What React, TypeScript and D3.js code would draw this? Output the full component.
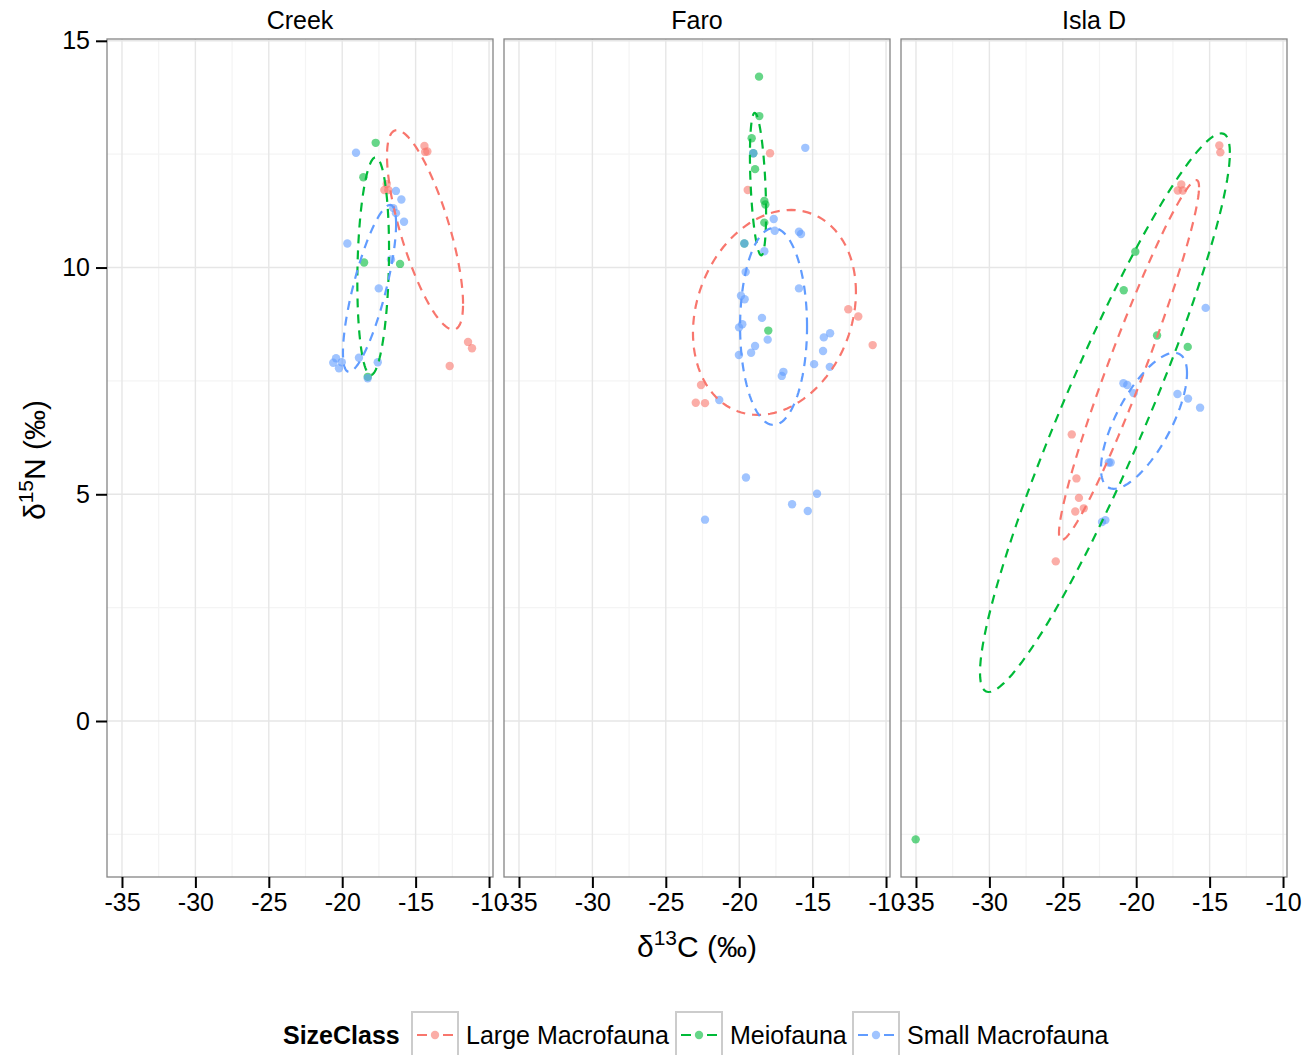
import * as d3 from "d3";
import { useEffect, useRef } from "react";

const WIDTH = 1306;
const HEIGHT = 1055;
const FONT = "'Liberation Sans', Arial, Helvetica, sans-serif";

const SITES = ["Creek", "Faro", "Isla D"];
const SIZE_CLASSES = ["Large Macrofauna", "Meiofauna", "Small Macrofauna"];
const CLASS_COLORS = ["#F8766D", "#00BA38", "#619CFF"];

const X_DOMAIN = [-36.02, -9.73];
const Y_DOMAIN = [-3.44, 15.04];
const X_TICKS = [-35, -30, -25, -20, -15, -10];
const X_MINOR = [-32.5, -27.5, -22.5, -17.5, -12.5];
const Y_TICKS = [0, 5, 10, 15];
const Y_MINOR = [-2.5, 2.5, 7.5, 12.5];

// [d13C, d15N] per site / size class
const creekLarge = [
  [-14.4, 12.68], [-14.2, 12.56], [-14.35, 12.55], [-16.97, 11.84], [-17.13, 11.71],
  [-16.86, 11.71], [-11.43, 8.36], [-11.16, 8.22], [-12.68, 7.83],
];
const creekMeio = [
  [-17.72, 12.75], [-18.56, 11.99], [-18.51, 10.11], [-16.06, 10.08], [-18.26, 7.59],
];
const creekSmall = [
  [-19.06, 12.53], [-16.34, 11.69], [-15.97, 11.5], [-16.52, 11.31], [-16.34, 11.2],
  [-15.79, 11.01], [-19.65, 10.53], [-16.68, 10.18], [-17.51, 9.54], [-20.42, 8.0],
  [-20.61, 7.9], [-20.03, 7.91], [-20.22, 7.78], [-18.86, 8.01], [-17.58, 7.91],
  [-18.26, 7.56],
];

const faroLarge = [
  [-17.9, 12.52], [-19.42, 11.71], [-12.57, 9.08], [-11.89, 8.92], [-10.91, 8.29],
  [-22.6, 7.41], [-22.96, 7.02], [-22.33, 7.01],
];
const faroMeio = [
  [-18.65, 14.21], [-18.63, 13.34], [-19.15, 12.85], [-19.04, 12.52], [-18.92, 12.17],
  [-18.29, 11.47], [-18.22, 11.39], [-18.29, 10.99], [-19.65, 10.53], [-18.02, 8.61],
];
const faroSmall = [
  [-15.5, 12.64], [-19.04, 12.52], [-17.65, 11.07], [-17.58, 10.81], [-15.93, 10.79],
  [-15.79, 10.74], [-19.65, 10.53], [-18.29, 10.36], [-19.56, 9.9], [-15.93, 9.54],
  [-19.88, 9.38], [-19.63, 9.3], [-18.45, 8.89], [-20.01, 8.68], [-19.79, 8.75],
  [-18.06, 8.41], [-14.24, 8.46], [-13.81, 8.55], [-18.92, 8.27], [-19.19, 8.12],
  [-14.29, 8.16], [-20.02, 8.07], [-14.9, 7.87], [-13.83, 7.81], [-16.99, 7.7],
  [-17.1, 7.61], [-21.36, 7.08], [-19.54, 5.37], [-14.7, 5.01], [-16.4, 4.78],
  [-15.33, 4.63], [-22.33, 4.44],
];

const islaLarge = [
  [-14.34, 12.69], [-14.27, 12.54], [-16.93, 11.83], [-17.17, 11.7], [-16.83, 11.7],
  [-24.39, 6.32], [-24.07, 5.35], [-23.9, 4.92], [-24.15, 4.62], [-23.57, 4.69],
  [-25.48, 3.52],
];
const islaMeio = [
  [-35.02, -2.61], [-20.06, 10.35], [-20.85, 9.5], [-18.58, 8.5], [-16.49, 8.25],
];
const islaSmall = [
  [-15.27, 9.11], [-20.87, 7.45], [-20.61, 7.41], [-20.18, 7.23], [-17.19, 7.21],
  [-16.47, 7.11], [-15.65, 6.91], [-21.87, 5.7], [-21.74, 5.7], [-22.1, 4.43],
  [-22.33, 4.39],
];

const POINTS = {
  Creek: [creekLarge, creekMeio, creekSmall],
  Faro: [faroLarge, faroMeio, faroSmall],
  "Isla D": [islaLarge, islaMeio, islaSmall],
};

// 95% ellipses: site, class index, centre x, centre y, half range x, half range y, correlation
const ELLIPSES = [
  ["Creek", 0, -14.36, 10.83, 2.59, 2.2, -0.74],
  ["Creek", 1, -17.89, 10.03, 1.08, 2.4, 0.15],
  ["Creek", 2, -18.14, 9.54, 1.81, 1.84, 0.77],
  ["Faro", 0, -17.6, 9.01, 5.55, 2.26, 0.2],
  ["Faro", 1, -18.72, 11.84, 0.55, 1.57, -0.4],
  ["Faro", 2, -17.66, 8.7, 2.28, 2.17, 0.0],
  ["Isla D", 0, -20.49, 7.96, 4.77, 3.97, 0.96],
  ["Isla D", 1, -22.13, 6.8, 8.51, 6.16, 0.93],
  ["Isla D", 2, -19.47, 6.62, 2.93, 1.5, 0.7],
];

const PANEL = { left: 107, width: 386, gap: 11, top: 39, height: 838 };

const ellipsePath = (cx, cy, sx, sy, rho) =>
  d3.range(0, 121).map((i) => {
    const t = (i / 120) * 2 * Math.PI;
    return [
      cx + sx * Math.cos(t),
      cy + sy * (rho * Math.cos(t) + Math.sqrt(1 - rho * rho) * Math.sin(t)),
    ];
  });

const App = () => {
  const svgRef = useRef<SVGSVGElement | null>(null);

  useEffect(() => {
    const svg = d3.select(svgRef.current);
    svg.selectAll("*").remove();
    svg.append("rect").attr("width", WIDTH).attr("height", HEIGHT).attr("fill", "#fff");

    const y = d3
      .scaleLinear()
      .domain(Y_DOMAIN)
      .range([PANEL.top + PANEL.height, PANEL.top]);

    SITES.forEach((site, si) => {
      const left = PANEL.left + si * (PANEL.width + PANEL.gap);
      const x = d3
        .scaleLinear()
        .domain(X_DOMAIN)
        .range([left, left + PANEL.width]);
      const g = svg.append("g");

      // grid
      g.selectAll(".xminor")
        .data(X_MINOR)
        .enter()
        .append("line")
        .attr("x1", (d) => x(d))
        .attr("x2", (d) => x(d))
        .attr("y1", PANEL.top)
        .attr("y2", PANEL.top + PANEL.height)
        .attr("stroke", "#f4f4f4")
        .attr("stroke-width", 1.2);
      g.selectAll(".yminor")
        .data(Y_MINOR)
        .enter()
        .append("line")
        .attr("x1", left)
        .attr("x2", left + PANEL.width)
        .attr("y1", (d) => y(d))
        .attr("y2", (d) => y(d))
        .attr("stroke", "#f4f4f4")
        .attr("stroke-width", 1.2);
      g.selectAll(".xmajor")
        .data(X_TICKS)
        .enter()
        .append("line")
        .attr("x1", (d) => x(d))
        .attr("x2", (d) => x(d))
        .attr("y1", PANEL.top)
        .attr("y2", PANEL.top + PANEL.height)
        .attr("stroke", "#e6e6e6")
        .attr("stroke-width", 1.4);
      g.selectAll(".ymajor")
        .data(Y_TICKS)
        .enter()
        .append("line")
        .attr("x1", left)
        .attr("x2", left + PANEL.width)
        .attr("y1", (d) => y(d))
        .attr("y2", (d) => y(d))
        .attr("stroke", "#e6e6e6")
        .attr("stroke-width", 1.4);

      // points
      POINTS[site].forEach((pts, ci) => {
        g.append("g")
          .selectAll("circle")
          .data(pts)
          .enter()
          .append("circle")
          .attr("cx", (d) => x(d[0]))
          .attr("cy", (d) => y(d[1]))
          .attr("r", 4.2)
          .attr("fill", CLASS_COLORS[ci])
          .attr("fill-opacity", 0.6);
      });

      // ellipses
      const line = d3
        .line()
        .x((d) => x(d[0]))
        .y((d) => y(d[1]));
      ELLIPSES.filter((e) => e[0] === site).forEach((e) => {
        const [, ci, cx, cy, sx, sy, rho] = e;
        g.append("path")
          .attr("d", line(ellipsePath(cx, cy, sx, sy, rho)))
          .attr("fill", "none")
          .attr("stroke", CLASS_COLORS[ci])
          .attr("stroke-width", 2.2)
          .attr("stroke-dasharray", "9,7");
      });

      // panel border
      g.append("rect")
        .attr("x", left)
        .attr("y", PANEL.top)
        .attr("width", PANEL.width)
        .attr("height", PANEL.height)
        .attr("fill", "none")
        .attr("stroke", "#858585")
        .attr("stroke-width", 1.3);

      // strip label
      g.append("text")
        .attr("x", left + PANEL.width / 2)
        .attr("y", 29)
        .attr("text-anchor", "middle")
        .attr("font-family", FONT)
        .attr("font-size", 25)
        .attr("fill", "#000")
        .text(site);

      // x axis
      const xAxis = d3
        .axisBottom(x)
        .tickValues(X_TICKS)
        .tickFormat((d) => String(d))
        .tickSize(11)
        .tickSizeOuter(0)
        .tickPadding(5);
      const ax = g
        .append("g")
        .attr("transform", `translate(0, ${PANEL.top + PANEL.height})`)
        .call(xAxis);
      ax.select(".domain").remove();
      ax.selectAll("line").attr("stroke", "#000").attr("stroke-width", 2);
      ax.selectAll("text")
        .attr("font-family", FONT)
        .attr("font-size", 25)
        .attr("fill", "#000");
    });

    // y axis
    const yAxis = d3
      .axisLeft(y)
      .tickValues(Y_TICKS)
      .tickFormat((d) => String(d))
      .tickSize(11)
      .tickSizeOuter(0)
      .tickPadding(6);
    const ay = svg
      .append("g")
      .attr("transform", `translate(${PANEL.left}, 0)`)
      .call(yAxis);
    ay.select(".domain").remove();
    ay.selectAll("line").attr("stroke", "#000").attr("stroke-width", 2);
    ay.selectAll("text")
      .attr("font-family", FONT)
      .attr("font-size", 25)
      .attr("fill", "#000");

    // axis titles
    const xt = svg
      .append("text")
      .attr("x", PANEL.left + (3 * PANEL.width + 2 * PANEL.gap) / 2)
      .attr("y", 957)
      .attr("text-anchor", "middle")
      .attr("font-family", FONT)
      .attr("font-size", 30)
      .attr("fill", "#000");
    xt.append("tspan").text("δ");
    xt.append("tspan").attr("dy", -12).attr("font-size", 21).text("13");
    xt.append("tspan").attr("dy", 12).text("C (‰)");

    const yt = svg
      .append("text")
      .attr("transform", `translate(45, ${PANEL.top + PANEL.height / 2 + 2}) rotate(-90)`)
      .attr("text-anchor", "middle")
      .attr("font-family", FONT)
      .attr("font-size", 30)
      .attr("fill", "#000");
    yt.append("tspan").text("δ");
    yt.append("tspan").attr("dy", -12).attr("font-size", 21).text("15");
    yt.append("tspan").attr("dy", 12).text("N (‰)");

    // legend
    const legY = 1035;
    svg
      .append("text")
      .attr("x", 283)
      .attr("y", legY + 9)
      .attr("font-family", FONT)
      .attr("font-size", 25)
      .attr("font-weight", "bold")
      .attr("fill", "#000")
      .text("SizeClass");
    const keyX = [412, 676, 853];
    SIZE_CLASSES.forEach((cls, ci) => {
      const bx = keyX[ci];
      const lg = svg.append("g");
      lg.append("rect")
        .attr("x", bx)
        .attr("y", 1012)
        .attr("width", 46)
        .attr("height", 48)
        .attr("fill", "#fff")
        .attr("stroke", "#cccccc")
        .attr("stroke-width", 2);
      lg.append("line")
        .attr("x1", bx + 5)
        .attr("x2", bx + 41)
        .attr("y1", legY)
        .attr("y2", legY)
        .attr("stroke", CLASS_COLORS[ci])
        .attr("stroke-width", 2.2)
        .attr("stroke-dasharray", "10,16");
      lg.append("circle")
        .attr("cx", bx + 23)
        .attr("cy", legY)
        .attr("r", 4.2)
        .attr("fill", CLASS_COLORS[ci])
        .attr("fill-opacity", 0.6);
      lg.append("text")
        .attr("x", bx + 54)
        .attr("y", legY + 9)
        .attr("font-family", FONT)
        .attr("font-size", 25)
        .attr("fill", "#000")
        .text(cls);
    });
  }, []);

  return (
    <svg
      ref={svgRef}
      width={WIDTH}
      height={HEIGHT}
      style={{ position: "absolute", left: 0, top: 0, display: "block" }}
    />
  );
};

export default App;
